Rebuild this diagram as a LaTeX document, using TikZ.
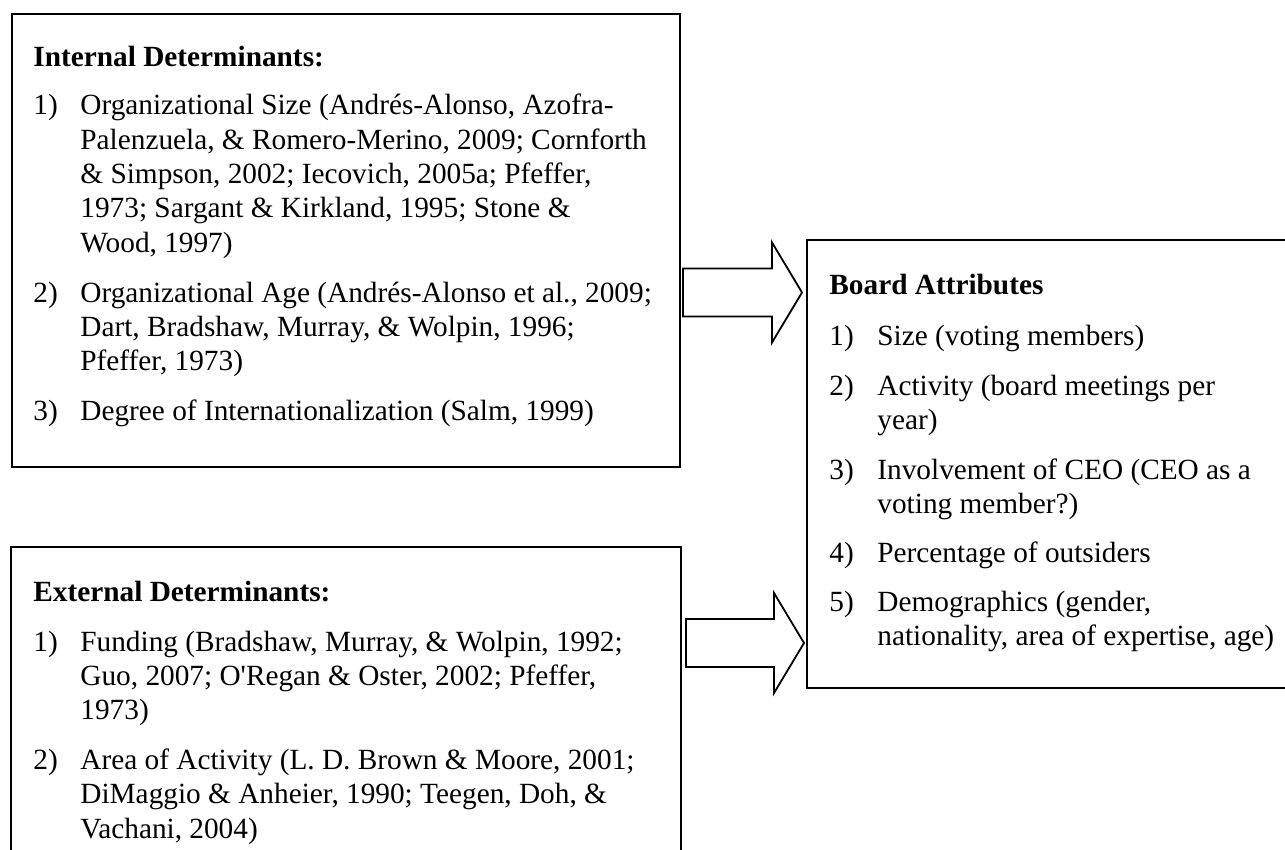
\documentclass[tikz,border=0pt]{standalone}
\usepackage{fontspec}
\setmainfont{Liberation Serif}
\usetikzlibrary{calc}
\newcommand\bodyfont{\fontsize{14.65pt}{17pt}\selectfont}
\newcommand\blockarrow[2]{%
  \draw[arrowline] ($(#1)+(0,-24)$) -- ($(#2)+(-30,-24)$) -- ($(#2)+(-30,-50)$) -- (#2)
    -- ($(#2)+(-30,50)$) -- ($(#2)+(-30,24)$) -- ($(#1)+(0,24)$) -- cycle;}
\begin{document}
\begin{tikzpicture}[x=0.5pt,y=-0.5pt,
  boxline/.style={line width=1pt, draw=black},
  arrowline/.style={line width=0.9pt, draw=black, fill=white, line join=miter},
  ln/.style={anchor=base west, inner sep=0pt, font=\bodyfont},
  hd/.style={anchor=base west, inner sep=0pt, font=\bodyfont\bfseries}]
\useasboundingbox (0,0) rectangle (1285,850);
\fill[white] (0,0) rectangle (1285,850);

% boxes
\node[boxline, draw, anchor=north west, minimum width=334pt, minimum height=226.5pt, inner sep=0pt] (internal) at (11,13) {};
\coordinate (extTL) at (11,547);
\coordinate (extTR) at (681,547);
\draw[boxline] (11,850) -- (extTL) -- (extTR) -- (681,850);
\coordinate (boardTL) at (807,240);
\coordinate (boardBL) at (807,688);
\draw[boxline] (1285,240) -- (boardTL) -- (boardBL) -- (1285,688);

% block arrows
\coordinate (a1s) at (683,292.5);
\coordinate (a1t) at (802,292.5);
\coordinate (a2s) at (686,643);
\coordinate (a2t) at (804,643);
\blockarrow{a1s}{a1t}
\blockarrow{a2s}{a2t}

% internal determinants
\node[hd] (ih) at (33,67) {Internal Determinants:};
\node[ln] (in1) at (33,115) {1)};
\node[ln] (i1a) at (80,115) {Organizational Size (Andrés-Alonso, Azofra-};
\node[ln] (i1b) at (80,149.3) {Palenzuela, \& Romero-Merino, 2009; Cornforth};
\node[ln] (i1c) at (80,183.6) {\& Simpson, 2002; Iecovich, 2005a; Pfeffer,};
\node[ln] (i1d) at (80,217.9) {1973; Sargant \& Kirkland, 1995; Stone \&};
\node[ln] (i1e) at (80,252.2) {Wood, 1997)};
\node[ln] (in2) at (33,302.2) {2)};
\node[ln] (i2a) at (80,302.2) {Organizational Age (Andrés-Alonso et al., 2009;};
\node[ln] (i2b) at (80,336.5) {Dart, Bradshaw, Murray, \& Wolpin, 1996;};
\node[ln] (i2c) at (80,370.8) {Pfeffer, 1973)};
\node[ln] (in3) at (33,420.5) {3)};
\node[ln] (i3a) at (80,420.5) {Degree of Internationalization (Salm, 1999)};

% external determinants
\node[hd] (eh) at (33,601) {External Determinants:};
\node[ln] (en1) at (33,651) {1)};
\node[ln] (e1a) at (80,651) {Funding (Bradshaw, Murray, \& Wolpin, 1992;};
\node[ln] (e1b) at (80,685.3) {Guo, 2007; O\textquotesingle Regan \& Oster, 2002; Pfeffer,};
\node[ln] (e1c) at (80,719.6) {1973)};
\node[ln] (en2) at (33,769.6) {2)};
\node[ln] (e2a) at (80,769.6) {Area of Activity (L. D. Brown \& Moore, 2001;};
\node[ln] (e2b) at (80,803.9) {DiMaggio \& Anheier, 1990; Teegen, Doh, \&};
\node[ln] (e2c) at (80,838.2) {Vachani, 2004)};

% board attributes
\node[hd] (bh) at (829,295) {Board Attributes};
\node[ln] (bn1) at (829,345) {1)};
\node[ln] (b1a) at (877,345) {Size (voting members)};
\node[ln] (bn2) at (829,395) {2)};
\node[ln] (b2a) at (877,395) {Activity (board meetings per};
\node[ln] (b2b) at (877,429) {year)};
\node[ln] (bn3) at (829,479) {3)};
\node[ln] (b3a) at (877,479) {Involvement of CEO (CEO as a};
\node[ln] (b3b) at (877,513) {voting member?)};
\node[ln] (bn4) at (829,562) {4)};
\node[ln] (b4a) at (877,562) {Percentage of outsiders};
\node[ln] (bn5) at (829,611) {5)};
\node[ln] (b5a) at (877,611) {Demographics (gender,};
\node[ln] (b5b) at (877,645) {nationality, area of expertise, age)};
\end{tikzpicture}
\end{document}
